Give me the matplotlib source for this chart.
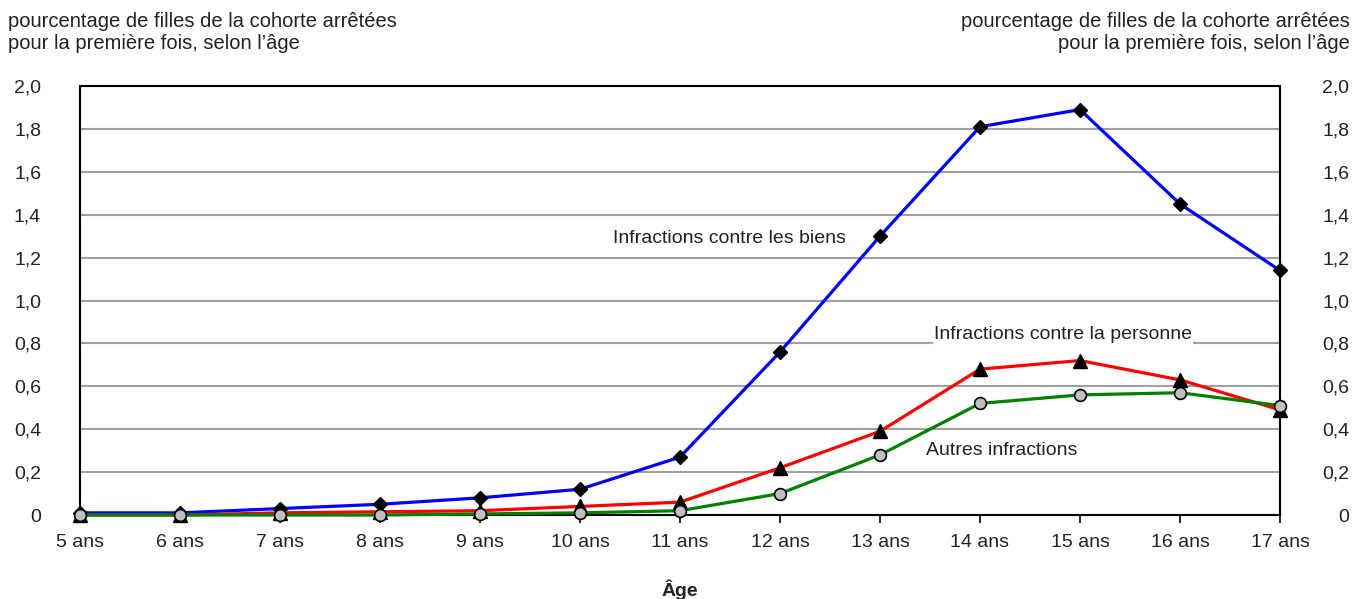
import matplotlib
matplotlib.use("Agg")
import matplotlib.pyplot as plt

plt.rcParams['font.family'] = ['Liberation Sans', 'DejaVu Sans']
plt.rcParams['text.color'] = '#222222'
plt.rcParams['xtick.labelcolor'] = '#222222'
plt.rcParams['ytick.labelcolor'] = '#222222'
plt.rcParams['axes.labelcolor'] = '#222222'

ages = ["5 ans", "6 ans", "7 ans", "8 ans", "9 ans", "10 ans", "11 ans",
        "12 ans", "13 ans", "14 ans", "15 ans", "16 ans", "17 ans"]
biens = [0.01, 0.01, 0.03, 0.05, 0.08, 0.12, 0.27, 0.76, 1.30, 1.81, 1.89, 1.45, 1.14]
personne = [0.0, 0.0, 0.01, 0.015, 0.02, 0.04, 0.06, 0.22, 0.39, 0.68, 0.72, 0.63, 0.49]
autres = [0.0, 0.0, 0.0, 0.0, 0.005, 0.01, 0.02, 0.10, 0.28, 0.52, 0.56, 0.57, 0.51]
yticks = [0, 0.2, 0.4, 0.6, 0.8, 1.0, 1.2, 1.4, 1.6, 1.8, 2.0]
ylabels = ["0", "0,2", "0,4", "0,6", "0,8", "1,0", "1,2", "1,4", "1,6", "1,8", "2,0"]
ytitle = "pourcentage de filles de la cohorte arrêtées\npour la première fois, selon l’âge"

FS = 14

fig = plt.figure(figsize=(13.54, 5.99), dpi=100)
ax = fig.add_axes([80/1354, 1-515/599, 1200/1354, 429/599])
x = list(range(len(ages)))

ax.plot(x, biens, color='#0000ff', lw=2.3, marker='D', ms=7.5, mfc='black', mec='black', zorder=3, clip_on=False)
ax.plot(x, personne, color='#ff0000', lw=2.3, marker='^', ms=9.5, mfc='black', mec='black', zorder=4, clip_on=False)
ax.plot(x, autres, color='#008000', lw=2.3, marker='o', ms=8.5, mfc='#c0c0c0', mec='black', mew=1.2, zorder=5, clip_on=False)

ax.set_xlim(0, len(ages)-1)
ax.set_ylim(0, 2.0)
ax.set_xticks(x)
ax.set_xticklabels(ages, fontsize=FS)
ax.tick_params(axis='x', direction='out', length=6, width=1.2, pad=8)
ax.set_yticks(yticks)
ax.set_yticklabels(ylabels, fontsize=FS)
ax.tick_params(axis='y', length=0, pad=28)
ax.yaxis.grid(True, color='#a0a0a0', lw=1.5, zorder=0)
ax.set_axisbelow(True)
for s in ax.spines.values():
    s.set_linewidth(1.5)
    s.set_color('black')

ax2 = ax.twinx()
ax2.set_ylim(0, 2.0)
ax2.set_yticks(yticks)
labs = ax2.set_yticklabels(ylabels, fontsize=FS)
for lab in labs:
    lab.set_horizontalalignment('right')
ax2.tick_params(axis='y', length=0, pad=50)
for s in ax2.spines.values():
    s.set_visible(False)

ax.set_xlabel("Âge", fontsize=FS, fontweight='bold', labelpad=20)

fig.text(8/1354, 1-12/599, ytitle, ha='left', va='top', fontsize=14.5, linespacing=1.2)
fig.text(1350/1354, 1-12/599, ytitle, ha='right', va='top', fontsize=14.5, linespacing=1.2, multialignment='right')

ax.text(5.33, 1.29, "Infractions contre les biens", fontsize=FS, ha='left', va='center',
        bbox=dict(facecolor='white', edgecolor='none', pad=1), zorder=2)
ax.text(8.54, 0.84, "Infractions contre la personne", fontsize=FS, ha='left', va='center',
        bbox=dict(facecolor='white', edgecolor='none', pad=1), zorder=2)
ax.text(8.46, 0.30, "Autres infractions", fontsize=FS, ha='left', va='center',
        bbox=dict(facecolor='white', edgecolor='none', pad=1), zorder=2)

fig.savefig("out.png", dpi=100)
